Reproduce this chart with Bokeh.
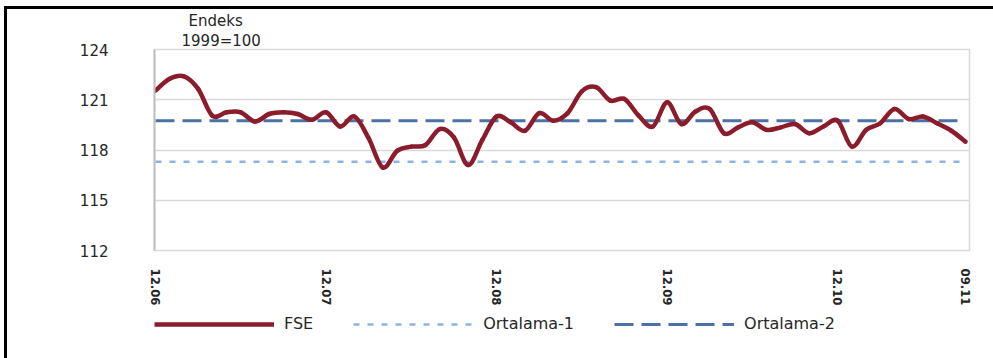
from bokeh.plotting import figure
from bokeh.layouts import column
from bokeh.models import (Range1d, FixedTicker, Legend, LegendItem, Title,
                          ColumnDataSource)
from bokeh.embed import file_html
from bokeh.resources import INLINE

# Monthly FSE index (1999=100), Dec 2006 .. Sep 2011
fse = [121.55, 122.25, 122.40, 121.65, 120.05, 120.25, 120.25, 119.70,
       120.15, 120.25, 120.15, 119.80, 120.25, 119.40, 120.00, 118.70,
       116.95, 117.95, 118.20, 118.30, 119.25, 118.75, 117.10, 118.60,
       120.00, 119.65, 119.15, 120.20, 119.75, 120.20, 121.50, 121.75,
       120.95, 121.05, 120.05, 119.40, 120.85, 119.55, 120.30, 120.45,
       119.00, 119.35, 119.65, 119.20, 119.35, 119.55, 119.00, 119.40,
       119.75, 118.20, 119.20, 119.60, 120.45, 119.85, 120.00, 119.60,
       119.15, 118.50]
ortalama_1 = 117.3
ortalama_2 = 119.75

tick_positions = [0, 12, 24, 36, 48, 57]
tick_labels = ["12.06", "12.07", "12.08", "12.09", "12.10", "09.11"]
y_ticks = [112, 115, 118, 121, 124]

TEXT = "#262626"
FONT = "DejaVu Sans"
RED, LIGHT_BLUE, BLUE = "#8b1c2c", "#8db3e2", "#4a72a6"

n = len(fse)
xs = list(range(n))

p = figure(frame_width=815, frame_height=201, output_backend="svg",
           toolbar_location=None,
           x_range=Range1d(-0.07, 57.28), y_range=Range1d(112, 124),
           min_border_left=147, min_border_right=24, min_border_top=40,
           min_border_bottom=55, background_fill_color="white",
           border_fill_color="white")

p.outline_line_color = "#d9d9d9"
p.outline_line_width = 1.5

p.xgrid.visible = False
p.ygrid.ticker = FixedTicker(ticks=y_ticks)
p.ygrid.grid_line_color = "#d9d9d9"
p.ygrid.grid_line_width = 1.5

p.yaxis.ticker = FixedTicker(ticks=y_ticks)
p.yaxis.axis_line_color = "#bfbfbf"
p.yaxis.axis_line_width = 2
p.yaxis.major_tick_line_color = None
p.yaxis.minor_tick_line_color = None
p.yaxis.major_tick_out = 0
p.yaxis.major_label_standoff = 46
p.yaxis.major_label_text_font = FONT
p.yaxis.major_label_text_font_size = "15px"
p.yaxis.major_label_text_color = TEXT

p.xaxis.ticker = FixedTicker(ticks=tick_positions)
p.xaxis.major_label_overrides = {t: s for t, s in zip(tick_positions, tick_labels)}
p.xaxis.major_label_orientation = "vertical"
p.xaxis.axis_line_color = None
p.xaxis.major_tick_line_color = None
p.xaxis.minor_tick_line_color = None
p.xaxis.major_tick_out = 0
p.xaxis.major_label_standoff = 18
p.xaxis.major_label_text_font = "DejaVu Sans Condensed"
p.xaxis.major_label_text_font_style = "bold"
p.xaxis.major_label_text_font_size = "13px"
p.xaxis.major_label_text_color = TEXT

# average lines
p.line([xs[0], xs[-1]], [ortalama_1, ortalama_1], line_color=LIGHT_BLUE,
       line_width=2.5, line_dash="6 8")
p.line([xs[0], xs[-1]], [ortalama_2, ortalama_2], line_color=BLUE,
       line_width=3, line_dash="19 8")

# smoothed FSE curve: cubic Bezier segments through the monthly points
x0, y0, x1, y1, cx0, cy0, cx1, cy1 = ([] for _ in range(8))
for i in range(n - 1):
    xp, yp = xs[max(i - 1, 0)], fse[max(i - 1, 0)]
    xa, ya = xs[i], fse[i]
    xb, yb = xs[i + 1], fse[i + 1]
    xn, yn = xs[min(i + 2, n - 1)], fse[min(i + 2, n - 1)]
    x0.append(xa); y0.append(ya); x1.append(xb); y1.append(yb)
    cx0.append(xa + (xb - xp) / 6); cy0.append(ya + (yb - yp) / 6)
    cx1.append(xb - (xn - xa) / 6); cy1.append(yb - (yn - ya) / 6)
src = ColumnDataSource(dict(x0=x0, y0=y0, x1=x1, y1=y1,
                            cx0=cx0, cy0=cy0, cx1=cx1, cy1=cy1))
p.bezier(x0="x0", y0="y0", x1="x1", y1="y1", cx0="cx0", cy0="cy0",
         cx1="cx1", cy1="cy1", source=src, line_color=RED,
         line_width=4.5, line_cap="round")

# unit caption above the value axis
p.title.text = "Endeks"
p.title.align = "left"
p.title.offset = 34
p.title.standoff = 0
p.title.text_font = FONT
p.title.text_font_size = "15px"
p.title.text_font_style = "normal"
p.title.text_color = TEXT
p.add_layout(Title(text="1999=100", align="left", offset=27, standoff=0,
                   text_font=FONT, text_font_size="15px",
                   text_font_style="normal", text_color=TEXT), "above")

# legend strip under the chart; its key glyphs hold a single point off-range
key = figure(width=986, height=53, output_backend="svg", toolbar_location=None,
             title=None, x_range=Range1d(0, 1), y_range=Range1d(0, 1),
             x_axis_location=None, y_axis_location=None, min_border=0,
             outline_line_color=None, background_fill_color="white",
             border_fill_color="white")
key.grid.visible = False
k0 = key.line([-1], [-1], line_color=RED, line_width=4.5)
k1 = key.line([-1], [-1], line_color=LIGHT_BLUE, line_width=2.5, line_dash="6 8")
k2 = key.line([-1], [-1], line_color=BLUE, line_width=3, line_dash="19 8")
legend = Legend(items=[LegendItem(label="FSE", renderers=[k0]),
                       LegendItem(label="Ortalama-1", renderers=[k1]),
                       LegendItem(label="Ortalama-2", renderers=[k2])],
                location=(0, 28), orientation="horizontal",
                glyph_width=120, glyph_height=16, label_height=16,
                label_standoff=10, padding=0, margin=0, spacing=40,
                border_line_alpha=0, background_fill_alpha=0,
                label_text_font=FONT, label_text_font_size="16px",
                label_text_color=TEXT)
key.add_layout(legend, "center")

chart = column(p, key, spacing=0)
# black rule along the top and left of the chart box
chart.margin = (6, 0, 0, 4)
chart.styles = {"border-top": "3px solid black", "border-left": "3px solid black"}

open("out.html", "w").write(file_html(chart, INLINE))
